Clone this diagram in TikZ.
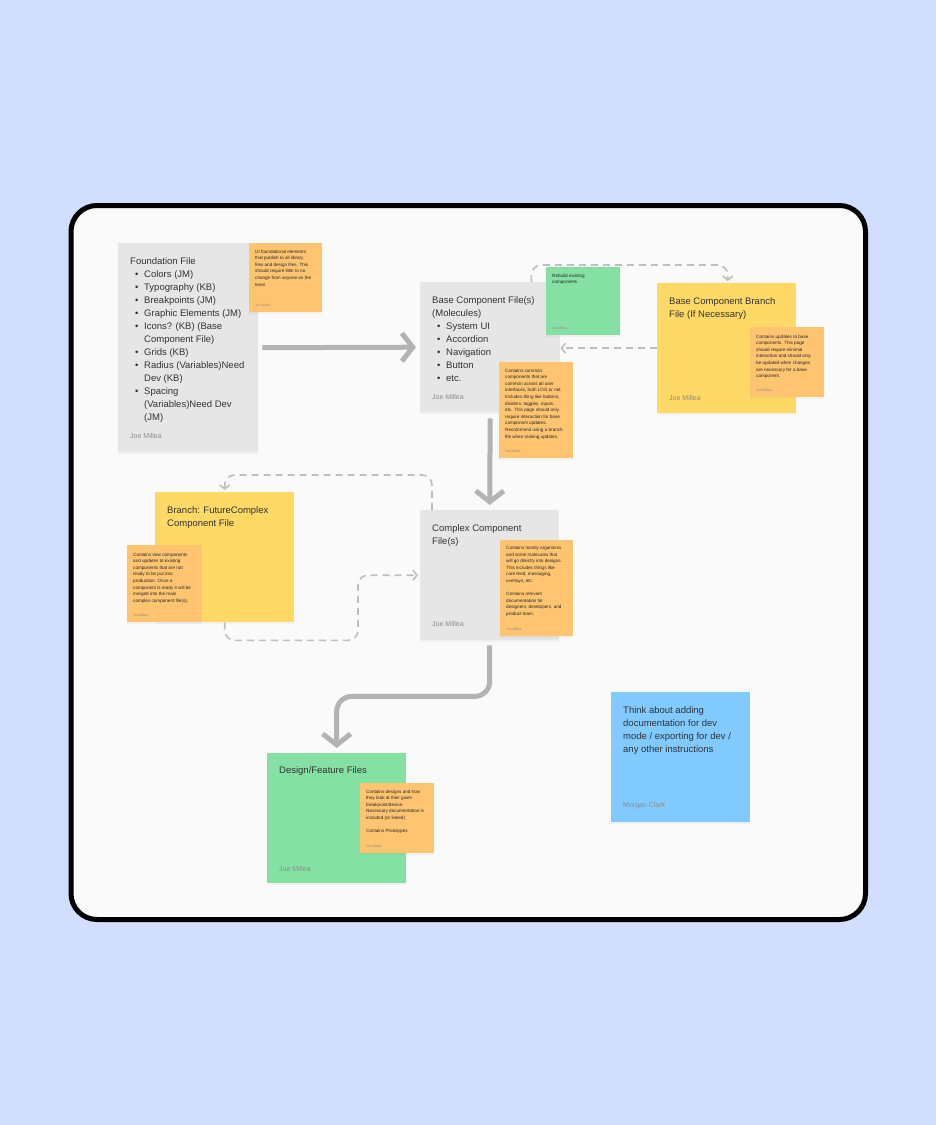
\documentclass[tikz,border=0pt]{standalone}
\usepackage{fontspec}
\setmainfont{Liberation Sans}
\usetikzlibrary{arrows.meta, positioning, shadows}

\definecolor{bgblue}{HTML}{D2DEFD}
\definecolor{boardwhite}{HTML}{FAFAFA}
\definecolor{cardgrey}{HTML}{E6E6E6}
\definecolor{stickyyellow}{HTML}{FFD966}
\definecolor{stickyorange}{HTML}{FFC470}
\definecolor{stickygreen}{HTML}{85E0A3}
\definecolor{stickyblue}{HTML}{80CAFF}
\definecolor{arrowgrey}{HTML}{B3B3B3}
\definecolor{inkdark}{HTML}{333333}

\tikzset{
  sticky/.style={minimum width=139pt, minimum height=130pt, inner sep=0pt, anchor=north west,
    drop shadow={shadow xshift=0pt, shadow yshift=-1.5pt, opacity=.07}},
  note/.style={sticky, fill=stickyorange, minimum width=74pt},
  heading/.style={anchor=north west, inner sep=0pt, align=left, text=inkdark, font=\fontsize{9.5}{13}\selectfont},
  author/.style={anchor=south west, inner sep=0pt, text=black!45, font=\fontsize{7}{8}\selectfont},
  notetext/.style={anchor=north west, inner sep=0pt, align=left, text=black!85, font=\fontsize{4.6}{6.6}\selectfont},
  noteauthor/.style={anchor=south west, inner sep=0pt, text=black!45, font=\fontsize{3.4}{4}\selectfont},
  bigarrow/.style={draw=arrowgrey, line width=5pt, rounded corners=15pt, -{Straight Barb[length=11pt, width=28pt]}},
  dashlink/.style={draw=arrowgrey!85, line width=1.6pt, dash pattern=on 7pt off 5pt, rounded corners=10pt,
    -{Straight Barb[length=4pt, width=10pt]}}
}
\newcommand{\itm}[1]{\hspace*{5pt}\makebox[9pt][l]{\textbullet}#1}
\newcommand{\itmcont}[1]{\hspace*{14pt}#1}

\begin{document}
\begin{tikzpicture}[x=1pt, y=-1pt]
    \fill[bgblue] (0,0) rectangle (936,1125);
    \useasboundingbox (0,0) rectangle (936,1125);
    \draw[line width=5pt, fill=boardwhite, rounded corners=26pt] (71,205.5) rectangle (865.5,919.5);

    \node[sticky, fill=cardgrey, minimum width=140pt, minimum height=209pt] (foundation) at (118,243) {};
    \node[sticky, fill=cardgrey, minimum width=140pt] (base) at (420,282) {};
    \node[sticky, fill=stickyyellow] (basebranch) at (657,283) {};
    \node[sticky, fill=stickyyellow] (branch) at (155,492) {};
    \node[sticky, fill=cardgrey] (complex) at (420,510) {};
    \node[sticky, fill=stickygreen] (design) at (267,753) {};
    \node[sticky, fill=stickyblue] (idea) at (611,692) {};

    \draw[bigarrow] ([xshift=4pt]foundation.east) -- ([xshift=-4pt]base.west);
    \draw[bigarrow] ([yshift=-6pt]base.south) -- ([yshift=5pt]complex.north);
    \draw[bigarrow] ([yshift=-5pt]complex.south) -- ++(0,51) -| ([yshift=5pt]design.north);

    \draw[dashlink] ([xshift=-29pt]base.north east) -- ++(0,-17) -| ([xshift=1pt,yshift=2pt]basebranch.north);
    \draw[dashlink] (basebranch.west) -- (basebranch.west -| base.east);
    \draw[dashlink] ([xshift=12pt]complex.north west) -- ++(0,-35) -| ([yshift=2pt]branch.north);
    \draw[dashlink] (branch.south) -- ++(0,18) -| ([xshift=-62pt]complex.west) -- ([xshift=-2pt]complex.west);

    \node[heading, below right=14.5pt and 12pt of foundation.north west] (foundationtitle) {Foundation File\\
      \itm{Colors (JM)}\\
      \itm{Typography (KB)}\\
      \itm{Breakpoints (JM)}\\
      \itm{Graphic Elements (JM)}\\
      \itm{Icons? (KB) (Base}\\
      \itmcont{Component File)}\\
      \itm{Grids (KB)}\\
      \itm{Radius (Variables)Need}\\
      \itmcont{Dev (KB)}\\
      \itm{Spacing}\\
      \itmcont{(Variables)Need Dev}\\
      \itmcont{(JM)}};
    \node[author, above right=13.5pt and 12pt of foundation.south west] {Joe Millea};

    \node[heading, below right=14.5pt and 12pt of base.north west] (basetitle) {Base Component File(s)\\
      (Molecules)\\
      \itm{System UI}\\
      \itm{Accordion}\\
      \itm{Navigation}\\
      \itm{Button}\\
      \itm{etc.}};
    \node[author, above right=12.5pt and 12pt of base.south west] {Joe Millea};

    \node[heading, below right=14pt and 12pt of basebranch.north west] (basebranchtitle) {Base Component Branch\\File (If Necessary)};
    \node[author, above right=12.5pt and 12pt of basebranch.south west] {Joe Millea};

    \node[heading, below right=14pt and 12pt of branch.north west] (branchtitle) {Branch: FutureComplex\\Component File};

    \node[heading, below right=14pt and 12pt of complex.north west] (complextitle) {Complex Component\\File(s)};
    \node[author, above right=13.5pt and 12pt of complex.south west] {Joe Millea};

    \node[heading, below right=13.5pt and 12pt of design.north west] (designtitle) {Design/Feature Files};
    \node[author, above right=12pt and 12pt of design.south west] {Joe Millea};

    \node[heading, below right=14.5pt and 12pt of idea.north west] (ideatitle) {Think about adding\\documentation for dev\\mode / exporting for dev /\\any other instructions};
    \node[author, above right=13.5pt and 12pt of idea.south west] {Morgan Clark};

    \node[note, minimum width=73pt, minimum height=69pt] (foundationnote) at (249,243) {};
    \node[note, fill=stickygreen, minimum height=68pt] (rebuildnote) at (546,267) {};
    \node[note, minimum height=96pt] (basenote) at (499,362) {};
    \node[note, minimum height=70pt] (basebranchnote) at (750,327) {};
    \node[note, minimum width=75pt, minimum height=77pt] (branchnote) at (127,545) {};
    \node[note, minimum width=73pt, minimum height=96pt] (complexnote) at (500,540) {};
    \node[note, minimum height=70pt] (designnote) at (360,783) {};

    \node[notetext, below right=6.5pt and 6pt of foundationnote.north west] {UI foundational elements\\that publish to all library\\files and design files. This\\should require little to no\\change from anyone on the\\team.};
    \node[noteauthor, above right=6pt and 6pt of foundationnote.south west] {Joe Millea};

    \node[notetext, below right=6.5pt and 6pt of rebuildnote.north west] {Rebuild existing\\components};
    \node[noteauthor, above right=6pt and 6pt of rebuildnote.south west] {Joe Millea};

    \node[notetext, below right=6.5pt and 6pt of basenote.north west] {Contains common\\components that are\\common across all user\\interfaces, both LOG or not.\\Includes thing like buttons,\\dividers, toggles, inputs,\\etc. This page should only\\require interaction for base\\component updates.\\Recommend using a branch\\file when making updates.};
    \node[noteauthor, above right=6pt and 6pt of basenote.south west] {Joe Millea};

    \node[notetext, below right=7.5pt and 6pt of basebranchnote.north west] {Contains updates to base\\components. This page\\should require minimal\\interaction and should only\\be updated when changes\\are necessary for a base\\component.};
    \node[noteauthor, above right=6pt and 6pt of basebranchnote.south west] {Joe Millea};

    \node[notetext, below right=7.5pt and 6pt of branchnote.north west] {Contains new components\\and updates to existing\\components that are not\\ready to be put into\\production. Once a\\component is ready it will be\\merged into the main\\complex component file(s).};
    \node[noteauthor, above right=6pt and 6pt of branchnote.south west] {Joe Millea};

    \node[notetext, below right=6pt and 6pt of complexnote.north west] {Contains mostly organisms\\and some molecules that\\will go directly into designs.\\This includes things like\\care feed, messaging,\\overlays, etc.\\[6.6pt]Contains relevant\\documentation for\\designers, developers, and\\product team.};
    \node[noteauthor, above right=6pt and 6pt of complexnote.south west] {Joe Millea};

    \node[notetext, below right=6.5pt and 6pt of designnote.north west] {Contains designs and how\\they look at their given\\breakpoint/device.\\Necessary documentation is\\included (or linked)\\[6.6pt]Contains Prototypes};
    \node[noteauthor, above right=6pt and 6pt of designnote.south west] {Joe Millea};
\end{tikzpicture}
\end{document}
